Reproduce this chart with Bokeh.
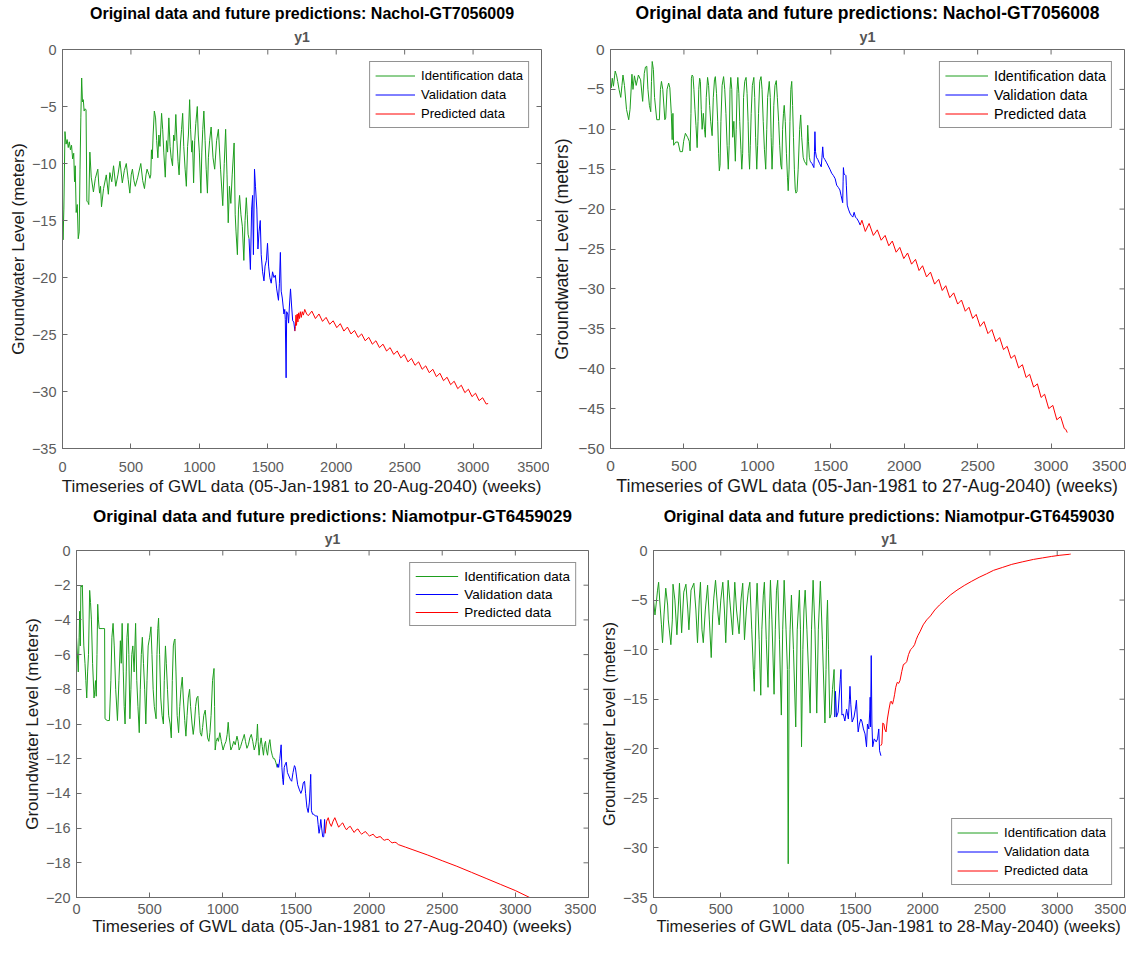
import math
from bokeh.plotting import figure
from bokeh.models import Range1d, FixedTicker, Title, Legend, LegendItem
from bokeh.layouts import row, column
from bokeh.embed import file_html
from bokeh.resources import INLINE

# ---------------- data (week index, groundwater level in m) ----------------
x_ticks = [0, 500, 1000, 1500, 2000, 2500, 3000, 3500]
series_names = ["Identification data", "Validation data", "Predicted data"]

p1_title = "Original data and future predictions: Nachol-GT7056009"
p1_xlabel = "Timeseries of GWL data (05-Jan-1981 to 20-Aug-2040) (weeks)"
p1_yticks = [0, -5, -10, -15, -20, -25, -30, -35]
p1_ident = [(0,-13.0),(4,-16.7),(10,-14.0),(18,-7.2),(26,-8.3),(34,-7.9),(42,-8.6),(50,-8.1),(58,-8.8),(66,-8.4),
            (74,-9.6),(82,-9.1),(88,-11.6),(93,-10.2),(100,-14.3),(108,-13.6),(115,-16.6),(122,-16.0),(128,-10.5),(134,-6.0),
            (140,-2.5),(146,-4.6),(152,-4.4),(158,-5.4),(165,-5.2),(172,-5.3),(178,-13.3),(186,-13.4),(192,-13.6),(200,-9.0),
            (210,-11.2),(226,-12.5),(240,-11.3),(258,-10.5),(265,-11.8),(271,-12.6),(278,-12.0),(285,-13.8),(300,-12.2),(320,-11.0),
            (335,-12.7),(346,-10.8),(360,-11.6),(373,-10.2),(389,-12.0),(405,-11.0),(420,-9.8),(437,-11.7),(452,-10.6),(466,-10.0),
            (480,-11.4),(492,-12.6),(502,-11.0),(511,-10.5),(522,-11.5),(532,-12.0),(550,-11.2),(572,-10.0),(586,-11.5),(599,-12.2),
            (610,-11.0),(618,-10.5),(632,-11.0),(639,-11.3),(645,-11.0),(650,-8.8),(656,-9.6),(662,-7.5),(671,-5.4),(680,-6.0),
            (688,-8.0),(697,-9.5),(704,-7.5),(712,-8.5),(724,-5.6),(732,-7.0),(740,-9.0),(751,-11.2),(760,-8.0),(768,-9.0),
            (777,-6.0),(786,-8.5),(794,-9.5),(804,-10.2),(812,-7.5),(820,-8.0),(828,-5.7),(836,-8.0),(844,-9.8),(852,-11.0),
            (862,-8.2),(870,-7.0),(878,-5.6),(886,-8.5),(896,-10.5),(905,-12.0),(914,-8.5),(920,-7.5),(929,-4.4),(936,-7.0),
            (944,-9.0),(950,-8.0),(958,-11.7),(966,-8.0),(974,-6.5),(985,-5.0),(992,-7.5),(1000,-9.0),(1011,-12.6),(1018,-9.0),
            (1025,-7.0),(1033,-5.4),(1042,-8.0),(1050,-10.5),(1059,-12.6),(1066,-9.5),(1075,-8.0),(1086,-6.8),(1100,-9.5),(1112,-10.5),
            (1126,-8.0),(1139,-7.0),(1155,-10.5),(1171,-13.7),(1182,-10.0),(1192,-7.0),(1202,-11.0),(1211,-15.2),(1220,-12.0),(1230,-13.5),
            (1240,-11.0),(1254,-8.2),(1262,-14.5),(1268,-16.0),(1278,-18.0),(1286,-14.0),(1294,-12.8),(1304,-14.5),(1314,-15.5),(1325,-18.5),
            (1334,-15.0),(1343,-13.0),(1350,-14.5),(1356,-16.2),(1363,-16.6)]
p1_valid = [(1363,-16.6),(1373,-19.3),(1382,-14.0),(1389,-12.8),(1395,-18.0),(1403,-10.5),(1410,-12.0),(1420,-14.0),(1428,-17.5),(1436,-16.0),
            (1445,-15.0),(1452,-18.0),(1462,-19.5),(1472,-20.3),(1480,-19.0),(1490,-18.5),(1498,-17.0),(1506,-19.0),(1515,-20.0),(1525,-20.5),
            (1535,-19.5),(1545,-20.0),(1555,-19.8),(1565,-21.0),(1578,-22.0),(1585,-20.5),(1592,-17.8),(1598,-21.2),(1606,-21.8),(1618,-23.2),
            (1624,-22.8),(1628,-23.7),(1634,-28.8),(1638,-23.0),(1646,-23.2),(1652,-24.0),(1658,-22.5),(1666,-21.0),(1674,-22.5),(1682,-23.8),
            (1690,-23.9),(1698,-24.7)]
p1_pred = [(1698,-24.7),(1702,-24.3),(1706,-23.3),(1710,-24.2),(1715,-23.2),(1720,-23.9),(1726,-23.1),(1732,-23.6),(1738,-23.0),(1745,-23.5),
           (1752,-23.0),(1760,-23.3),(1770,-22.8),(1784,-23.2),(1796,-23.35),(1822,-22.95),(1848,-23.6),(1874,-23.2),(1900,-23.85),(1926,-23.5),
           (1952,-24.1),(1978,-23.8),(2004,-24.4),(2030,-24.05),(2056,-24.7),(2082,-24.35),(2108,-24.95),(2134,-24.65),(2160,-25.25),(2186,-24.95),
           (2212,-25.55),(2238,-25.25),(2264,-25.85),(2290,-25.55),(2316,-26.15),(2342,-25.85),(2368,-26.45),(2394,-26.15),(2420,-26.75),(2446,-26.45),
           (2472,-27.05),(2498,-26.75),(2524,-27.4),(2550,-27.1),(2576,-27.7),(2602,-27.4),(2628,-28.05),(2654,-27.75),(2680,-28.35),(2706,-28.05),
           (2732,-28.7),(2758,-28.4),(2784,-29.05),(2810,-28.75),(2836,-29.4),(2862,-29.1),(2888,-29.75),(2914,-29.45),(2940,-30.1),(2966,-29.8),
           (2992,-30.45),(3018,-30.15),(3044,-30.8),(3070,-30.55),(3096,-31.1),(3110,-31.05)]

p2_title = "Original data and future predictions: Nachol-GT7056008"
p2_xlabel = "Timeseries of GWL data (05-Jan-1981 to 27-Aug-2040) (weeks)"
p2_yticks = [0, -5, -10, -15, -20, -25, -30, -35, -40, -45, -50]
p2_ident = [(0,-4.2),(5,-4.8),(12,-3.6),(20,-4.6),(32,-2.7),(42,-3.3),(49,-4.0),(58,-5.0),(70,-6.0),(78,-4.5),
            (85,-3.2),(95,-4.5),(109,-7.5),(124,-8.8),(133,-7.5),(146,-3.1),(153,-5.0),(163,-3.3),(175,-4.5),(190,-3.2),
            (205,-3.8),(219,-6.5),(230,-3.0),(238,-2.2),(247,-2.1),(255,-5.0),(265,-7.0),(274,-7.8),(279,-4.0),(284,-1.5),
            (292,-2.5),(300,-6.0),(315,-8.8),(333,-8.8),(340,-5.0),(347,-4.0),(356,-5.0),(370,-8.8),(376,-8.6),(385,-5.0),
            (396,-4.2),(404,-4.8),(414,-8.0),(420,-11.3),(425,-8.0),(430,-12.0),(444,-11.6),(460,-11.6),(474,-12.8),(490,-12.8),
            (498,-11.5),(510,-10.5),(525,-11.0),(536,-11.5),(542,-12.7),(548,-8.0),(551,-3.6),(556,-3.2),(562,-3.4),(568,-5.0),
            (575,-7.5),(582,-9.5),(590,-12.3),(596,-9.0),(601,-5.0),(607,-3.6),(612,-4.0),(618,-7.5),(624,-10.0),(632,-8.0),
            (640,-10.0),(646,-11.0),(652,-6.0),(661,-3.5),(668,-4.5),(675,-7.0),(682,-9.0),(692,-10.8),(700,-6.0),(708,-3.8),
            (714,-3.4),(722,-5.5),(730,-9.0),(736,-13.0),(741,-15.2),(746,-14.5),(752,-9.0),(760,-4.5),(770,-3.4),(778,-5.0),
            (786,-8.0),(794,-12.0),(802,-15.0),(808,-12.0),(814,-5.0),(819,-3.5),(826,-5.0),(832,-11.0),(840,-9.0),(850,-14.0),
            (856,-10.0),(862,-5.0),(867,-3.5),(874,-5.5),(880,-9.0),(888,-12.5),(894,-15.0),(900,-13.0),(906,-6.0),(914,-4.0),
            (923,-3.5),(930,-5.5),(937,-9.0),(942,-13.0),(947,-15.0),(952,-12.0),(958,-8.0),(966,-4.5),(976,-3.5),(982,-6.0),
            (988,-11.0),(996,-15.0),(1002,-12.0),(1008,-8.0),(1016,-4.0),(1025,-3.4),(1032,-5.0),(1040,-9.0),(1048,-12.5),(1057,-15.0),
            (1064,-10.0),(1070,-6.0),(1081,-4.0),(1088,-6.0),(1094,-11.0),(1100,-15.0),(1106,-12.0),(1112,-7.0),(1120,-4.5),(1129,-3.9),
            (1136,-6.0),(1145,-9.0),(1152,-12.0),(1160,-14.5),(1166,-15.0),(1172,-10.0),(1178,-8.0),(1183,-7.0),(1190,-9.0),(1198,-13.0),
            (1205,-16.0),(1210,-17.7),(1216,-15.0),(1222,-9.0),(1228,-5.0),(1234,-4.0),(1240,-7.0),(1246,-11.0),(1252,-15.0),(1258,-17.5),
            (1263,-18.0),(1270,-17.8),(1278,-15.0),(1288,-10.0),(1295,-8.2),(1302,-11.0),(1312,-13.5),(1320,-14.0),(1330,-14.3),(1336,-14.5),
            (1343,-9.5),(1348,-11.5),(1354,-13.5),(1360,-14.0)]
p2_valid = [(1360,-14.0),(1372,-14.3),(1385,-14.8),(1389,-12.8),(1392,-10.3),(1396,-12.8),(1402,-13.5),(1412,-13.8),(1424,-14.3),(1435,-14.7),
            (1440,-13.5),(1445,-12.2),(1450,-13.5),(1460,-13.8),(1472,-14.2),(1483,-14.6),(1494,-15.0),(1506,-15.5),(1518,-15.8),(1530,-16.2),
            (1540,-17.0),(1552,-17.3),(1562,-17.6),(1570,-18.3),(1581,-19.2),(1584,-16.5),(1586,-14.8),(1590,-15.6),(1598,-15.7),(1603,-15.8),
            (1606,-17.0),(1612,-19.5),(1620,-20.0),(1630,-20.5),(1640,-20.8),(1650,-21.0),(1659,-20.4),(1668,-21.0),(1678,-21.2),(1688,-21.5),
            (1700,-22.0)]
p2_pred = [(1700,-22.0),(1712,-21.4),(1735,-22.8),(1761,-21.8),(1790,-23.3),(1817,-22.6),(1843,-23.9),(1870,-23.3),(1895,-24.6),(1919,-24.0),
           (1945,-25.4),(1970,-24.8),(1997,-26.2),(2023,-25.5),(2050,-26.9),(2077,-26.3),(2101,-27.7),(2125,-27.1),(2152,-28.5),(2179,-27.9),
           (2207,-29.4),(2235,-28.8),(2259,-30.2),(2283,-29.6),(2310,-31.1),(2337,-30.5),(2364,-31.9),(2390,-31.4),(2416,-32.8),(2441,-32.3),
           (2466,-33.7),(2490,-33.2),(2517,-34.7),(2543,-34.1),(2570,-35.6),(2597,-35.1),(2624,-36.6),(2650,-36.1),(2676,-37.6),(2701,-37.2),
           (2727,-38.7),(2752,-38.3),(2779,-39.9),(2805,-39.5),(2830,-41.1),(2854,-40.7),(2881,-42.3),(2907,-41.9),(2932,-43.6),(2956,-43.2),
           (2984,-45.0),(3012,-44.6),(3039,-46.4),(3065,-46.0),(3090,-47.5),(3100,-47.6),(3110,-48.0)]

p3_title = "Original data and future predictions: Niamotpur-GT6459029"
p3_xlabel = "Timeseries of GWL data (05-Jan-1981 to 27-Aug-2040) (weeks)"
p3_yticks = [0, -2, -4, -6, -8, -10, -12, -14, -16, -18, -20]
p3_ident = [(0,-5.0),(6,-6.0),(12,-7.0),(18,-5.0),(22,-3.5),(26,-5.5),(30,-2.0),(36,-2.1),(40,-2.0),(45,-4.0),
            (50,-5.5),(58,-6.5),(64,-7.5),(70,-8.5),(76,-7.0),(82,-6.0),(90,-2.3),(96,-3.0),(102,-4.0),(110,-6.5),
            (120,-8.5),(126,-8.0),(130,-7.5),(135,-8.4),(140,-6.0),(145,-3.1),(150,-4.0),(155,-4.5),(175,-4.5),(192,-4.5),
            (195,-9.7),(210,-9.8),(225,-9.8),(235,-7.5),(242,-5.0),(250,-4.2),(258,-5.5),(268,-8.0),(280,-9.8),(290,-7.5),
            (300,-5.2),(306,-6.5),(312,-4.2),(320,-7.0),(326,-9.0),(332,-10.0),(340,-7.0),(345,-5.0),(352,-4.2),(358,-6.0),
            (365,-9.7),(372,-8.0),(378,-6.0),(385,-5.5),(394,-7.0),(404,-4.2),(412,-7.5),(420,-9.0),(429,-10.5),(436,-8.0),
            (443,-6.0),(450,-5.0),(458,-6.5),(466,-8.0),(474,-10.0),(482,-7.5),(490,-5.5),(500,-5.0),(509,-4.4),(516,-6.0),
            (524,-8.0),(532,-9.0),(544,-9.7),(550,-6.0),(556,-4.5),(561,-3.9),(568,-6.0),(576,-8.5),(585,-9.5),(594,-10.0),
            (600,-7.5),(608,-5.5),(614,-6.5),(622,-8.0),(630,-9.5),(640,-10.0),(648,-10.8),(655,-7.5),(662,-5.5),(668,-5.2),
            (673,-5.1),(680,-7.0),(688,-9.5),(698,-10.5),(706,-9.0),(714,-8.0),(723,-7.3),(730,-8.5),(740,-9.8),(748,-10.7),
            (756,-9.5),(764,-8.5),(773,-8.0),(780,-9.0),(790,-10.0),(798,-10.6),(806,-10.0),(814,-9.0),(822,-8.5),(830,-8.4),
            (838,-9.5),(846,-10.5),(855,-10.7),(862,-10.2),(870,-9.5),(880,-9.2),(888,-10.0),(896,-10.8),(905,-11.0),(912,-10.5),
            (920,-9.5),(930,-7.5),(940,-6.8),(944,-9.0),(948,-11.5),(955,-11.0),(963,-10.8),(970,-11.0),(980,-10.5),(990,-11.0),
            (1002,-11.5),(1012,-11.2),(1022,-11.0),(1030,-10.6),(1037,-9.9),(1045,-10.8),(1055,-11.5),(1065,-11.3),(1075,-11.0),(1085,-11.2),
            (1097,-10.7),(1105,-11.0),(1112,-11.5),(1122,-11.3),(1132,-11.0),(1140,-10.8),(1147,-10.6),(1155,-11.0),(1165,-11.4),(1175,-11.2),
            (1185,-10.8),(1195,-10.6),(1205,-11.0),(1215,-11.5),(1225,-11.2),(1232,-10.8),(1237,-10.0),(1242,-11.0),(1248,-11.8),(1255,-11.2),
            (1262,-10.8),(1270,-11.3),(1278,-11.8),(1285,-11.2),(1292,-11.0),(1298,-11.5),(1306,-11.8),(1314,-11.2),(1322,-10.9),(1330,-11.5),
            (1338,-11.8),(1346,-12.0),(1354,-12.0),(1362,-12.2),(1372,-12.5)]
p3_valid = [(1372,-12.5),(1376,-12.3),(1382,-12.5),(1390,-12.0),(1399,-11.2),(1404,-12.5),(1410,-13.2),(1414,-13.5),(1420,-12.5),(1428,-12.3),
            (1434,-12.2),(1442,-12.8),(1452,-13.0),(1462,-13.2),(1471,-13.3),(1480,-12.8),(1490,-12.4),(1496,-12.5),(1504,-13.0),(1512,-13.5),
            (1524,-13.8),(1534,-14.0),(1542,-13.8),(1550,-13.4),(1559,-13.3),(1566,-14.0),(1575,-14.8),(1584,-15.1),(1592,-14.5),(1598,-13.5),
            (1601,-12.9),(1606,-15.0),(1614,-15.2),(1622,-15.2),(1632,-15.3),(1640,-15.3),(1646,-15.3),(1652,-15.8),(1658,-16.3),(1664,-16.0),
            (1670,-15.5),(1676,-16.0),(1683,-16.5),(1690,-16.5),(1696,-15.5),(1700,-16.3)]
p3_pred = [(1700,-16.3),(1710,-15.6),(1721,-15.4),(1730,-15.7),(1742,-15.9),(1754,-15.6),(1766,-15.4),(1780,-15.7),(1792,-15.95),(1806,-15.8),
           (1820,-15.7),(1834,-15.95),(1846,-16.1),(1860,-15.95),(1872,-15.9),(1886,-16.1),(1898,-16.25),(1912,-16.1),(1924,-16.05),(1938,-16.25),
           (1950,-16.35),(1964,-16.25),(1976,-16.2),(1990,-16.35),(2002,-16.45),(2016,-16.4),(2028,-16.35),(2042,-16.5),(2054,-16.55),(2068,-16.5),
           (2080,-16.5),(2094,-16.65),(2106,-16.7),(2120,-16.65),(2132,-16.65),(2146,-16.78),(2158,-16.85),(2172,-16.82),(2184,-16.83),(2200,-16.95),
           (2250,-17.1),(2300,-17.25),(2400,-17.55),(2500,-17.88),(2600,-18.2),(2700,-18.55),(2800,-18.9),(2900,-19.25),(3000,-19.6),(3110,-20.05)]

p4_title = "Original data and future predictions: Niamotpur-GT6459030"
p4_xlabel = "Timeseries of GWL data (05-Jan-1981 to 28-May-2040) (weeks)"
p4_yticks = [0, -5, -10, -15, -20, -25, -30, -35]
p4_ident = [(0,-5.0),(11,-6.5),(19,-5.5),(30,-4.0),(38,-3.2),(46,-5.0),(59,-7.5),(67,-9.3),(78,-6.5),(91,-3.8),
            (105,-5.5),(110,-7.0),(129,-9.5),(140,-7.0),(145,-3.4),(159,-5.0),(174,-8.5),(193,-3.3),(209,-8.3),(225,-4.2),
            (241,-3.4),(255,-6.0),(263,-8.0),(279,-4.0),(300,-3.3),(315,-6.0),(327,-9.3),(340,-5.0),(349,-3.2),(360,-8.0),
            (370,-9.3),(385,-6.0),(402,-3.5),(415,-7.0),(429,-10.8),(440,-6.5),(448,-4.8),(461,-3.0),(480,-6.5),(488,-7.5),
            (500,-5.0),(515,-3.2),(527,-6.0),(537,-9.3),(548,-5.0),(555,-3.0),(570,-5.5),(588,-8.5),(604,-3.2),(617,-6.0),
            (636,-8.4),(650,-5.0),(663,-3.3),(676,-9.0),(690,-6.0),(705,-4.0),(716,-3.2),(730,-8.0),(745,-13.0),(749,-14.2),
            (752,-12.0),(762,-6.0),(770,-3.3),(785,-9.0),(797,-14.6),(805,-8.0),(816,-4.5),(824,-3.2),(838,-9.0),(851,-13.8),
            (860,-7.0),(869,-3.0),(880,-7.0),(896,-14.5),(905,-8.0),(914,-4.0),(923,-3.0),(936,-9.0),(950,-16.6),(960,-8.0),
            (971,-3.0),(985,-8.0),(995,-12.0),(1001,-31.6),(1008,-12.0),(1015,-8.0),(1025,-4.5),(1040,-10.0),(1057,-17.8),(1068,-8.0),
            (1084,-4.0),(1092,-8.0),(1100,-19.8),(1110,-10.0),(1118,-6.0),(1127,-4.0),(1140,-8.0),(1164,-16.4),(1174,-8.0),(1186,-3.0),
            (1200,-8.0),(1213,-16.4),(1225,-8.0),(1240,-3.1),(1255,-9.0),(1274,-17.4),(1282,-12.0),(1288,-7.0),(1293,-5.0),(1300,-10.0),
            (1310,-16.9),(1320,-16.5),(1330,-14.0),(1342,-12.0),(1347,-16.8)]
p4_valid = [(1347,-16.8),(1352,-14.2),(1360,-16.8),(1372,-16.3),(1388,-13.0),(1393,-12.0),(1400,-16.6),(1410,-16.5),(1422,-17.2),(1435,-16.0),
            (1448,-17.0),(1456,-15.0),(1460,-13.7),(1466,-15.5),(1476,-17.3),(1490,-16.8),(1500,-16.0),(1508,-15.1),(1515,-17.0),(1521,-18.3),
            (1530,-17.5),(1540,-17.0),(1548,-17.2),(1560,-18.0),(1572,-18.5),(1583,-19.8),(1590,-17.5),(1600,-18.0),(1608,-16.0),(1610,-14.8),
            (1613,-17.8),(1618,-10.6),(1623,-17.5),(1629,-19.8),(1640,-19.0),(1655,-19.3),(1665,-19.0),(1674,-18.0),(1680,-20.2),(1690,-20.7)]
p4_pred = [(1688,-19.7),(1697,-19.5),(1704,-17.4),(1712,-17.5),(1718,-18.0),(1728,-18.3),(1738,-17.0),(1750,-16.0),(1760,-15.3),(1766,-15.2),
           (1776,-15.5),(1785,-15.0),(1792,-14.5),(1800,-13.8),(1811,-13.3),(1822,-13.4),(1832,-13.1),(1845,-12.2),(1857,-11.5),(1870,-11.4),
           (1882,-11.2),(1895,-10.5),(1910,-10.0),(1925,-9.8),(1940,-9.5),(1952,-9.0),(1964,-8.6),(1980,-8.2),(2004,-7.5),(2030,-7.0),
           (2058,-6.6),(2090,-6.0),(2125,-5.5),(2165,-5.0),(2205,-4.5),(2255,-4.0),(2313,-3.5),(2365,-3.1),(2420,-2.7),(2475,-2.35),
           (2527,-2.0),(2595,-1.7),(2662,-1.4),(2740,-1.15),(2823,-0.9),(2890,-0.75),(2957,-0.6),(3020,-0.48),(3091,-0.38),(3100,-0.36)]

# ---------------- styling ----------------
FONT = "Liberation Sans"
GREEN = "#1e9e1e"
BLUE = "#0000ff"
RED = "#ff0000"
AXC = "#6b6b6b"
TICKC = "#5c5c5c"


def style_axis(ax, tick_size, label_size, label_standoff, axis_label_standoff):
    ax.axis_line_color = AXC
    ax.major_tick_line_color = AXC
    ax.minor_tick_line_color = None
    ax.major_tick_in = 5
    ax.major_tick_out = 0
    ax.major_label_text_font = FONT
    ax.major_label_text_font_size = tick_size
    ax.major_label_text_color = TICKC
    ax.major_label_standoff = label_standoff
    ax.axis_label_text_font = FONT
    ax.axis_label_text_font_size = label_size
    ax.axis_label_text_font_style = "normal"
    ax.axis_label_text_color = "#1a1a1a"
    ax.axis_label_standoff = axis_label_standoff


def panel(title, xlabel, yticks, ident, valid, pred, size, borders, fonts, standoffs, legend_opts):
    width, height = size
    left, right, top, bottom = borders
    title_size, label_size, tick_size, sub_size = fonts
    x_std, xl_std, y_std, yl_std, sub_std, title_std = standoffs
    legend_loc, legend_font, glyph_w, row_h = legend_opts
    ymin = min(yticks)
    p = figure(width=width, height=height, x_range=Range1d(0, 3500), y_range=Range1d(ymin, 0),
               output_backend="svg", toolbar_location=None, title=None,
               min_border_left=left, min_border_right=right, min_border_top=top, min_border_bottom=bottom)
    p.xgrid.visible = False
    p.ygrid.visible = False
    p.outline_line_color = AXC
    p.background_fill_color = "white"
    p.border_fill_color = "white"

    p.xaxis.ticker = FixedTicker(ticks=x_ticks)
    p.yaxis.ticker = FixedTicker(ticks=yticks)
    p.xaxis.axis_label = xlabel
    p.yaxis.axis_label = "Groundwater Level (meters)"
    for ax in p.xaxis:
        style_axis(ax, tick_size, label_size, x_std, xl_std)
    for ax in p.yaxis:
        style_axis(ax, tick_size, label_size, y_std, yl_std)

    # inward mirror ticks on the top and right edges of the box
    p.ray(x=x_ticks, y=[0] * len(x_ticks), length=5, length_units="screen",
          angle=-math.pi / 2, line_color=AXC, line_width=1)
    p.ray(x=[3500] * len(yticks), y=yticks, length=5, length_units="screen",
          angle=math.pi, line_color=AXC, line_width=1)

    p.add_layout(Title(text="y1", align="center", text_font=FONT, text_font_size=sub_size,
                       text_font_style="bold", text_color="#555555", standoff=sub_std), "above")
    p.add_layout(Title(text=title, align="center", text_font=FONT, text_font_size=title_size,
                       text_font_style="bold", text_color="black", standoff=title_std), "above")

    renderers = []
    for data, col in ((ident, GREEN), (valid, BLUE), (pred, RED)):
        xs = [d[0] for d in data]
        ys = [d[1] for d in data]
        renderers.append(p.line(xs, ys, line_color=col, line_width=1))

    legend = Legend(items=[LegendItem(label=n, renderers=[r]) for n, r in zip(series_names, renderers)],
                    location=legend_loc, margin=12, padding=5, spacing=2,
                    glyph_width=glyph_w, glyph_height=row_h, label_height=row_h, label_standoff=6,
                    label_text_font=FONT, label_text_font_size=legend_font, label_text_color="black",
                    border_line_color="#262626", border_line_width=1, background_fill_color="white",
                    background_fill_alpha=1.0)
    p.add_layout(legend)
    return p


f1 = panel(p1_title, p1_xlabel, p1_yticks, p1_ident, p1_valid, p1_pred,
           (549, 500), (62, 8, 48, 52), ("16px", "17px", "14.5px", "14px"), (13, 2, 6, 1, 9, 1),
           ("top_right", "13px", 40, 17))
f2 = panel(p2_title, p2_xlabel, p2_yticks, p2_ident, p2_valid, p2_pred,
           (577, 500), (56, 2, 49, 51), ("17.5px", "17.8px", "15.5px", "14.5px"), (12, 2, 6, 3, 9, 0),
           ("top_right", "14.3px", 43, 17))
f3 = panel(p3_title, p3_xlabel, p3_yticks, p3_ident, p3_valid, p3_pred,
           (596, 439), (76, 8, 50, 42), ("17px", "17px", "14.5px", "14px"), (6, 0, 6, 1, 7, 0),
           ("top_right", "13.5px", 43, 16))
f4 = panel(p4_title, p4_xlabel, p4_yticks, p4_ident, p4_valid, p4_pred,
           (530, 439), (54, 2, 46, 42), ("16px", "16.4px", "14.5px", "14px"), (6, 0, 6, 2, 8, 0),
           ("bottom_right", "13px", 41, 17))

layout = column(row(f1, f2), row(f3, f4))
open("out.html", "w").write(file_html(layout, INLINE))
